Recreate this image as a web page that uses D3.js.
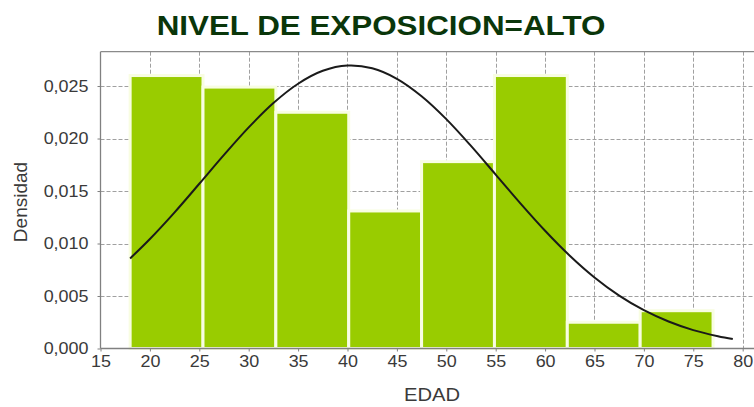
<!DOCTYPE html>
<html>
<head>
<meta charset="utf-8">
<script src="https://cdn.jsdelivr.net/npm/d3@7"></script>
<style>
  html, body { margin: 0; padding: 0; background: #fff; }
  svg { display: block; }
  text { font-family: "Liberation Sans", Arial, sans-serif; }
</style>
</head>
<body>
<svg id="chart" width="754" height="407"></svg>
<script>
// ---- data ----
const binEdges = [18, 25.375, 32.75, 40.125, 47.5, 54.875, 62.25, 69.625, 77];
const densities = [0.0260, 0.0249, 0.0225, 0.0131, 0.0178, 0.0260, 0.0025, 0.0036];
const curveX = [18, 20, 22.5, 25, 27.5, 30, 32.5, 35, 37.5, 40, 42.5, 45, 47.5, 50, 52.5, 55, 57.5, 60, 62.5, 65, 67.5, 70, 72.5, 75, 77.5, 79];
const curveY = [0.00858, 0.01043, 0.01297, 0.01569, 0.01844, 0.02106, 0.02338, 0.02522, 0.02645, 0.02695, 0.02669, 0.02569, 0.02403, 0.02185, 0.0193, 0.01657, 0.01383, 0.01122, 0.00884, 0.00677, 0.00504, 0.00365, 0.00257, 0.00175, 0.00117, 0.0009];
const xTicks = [15, 20, 25, 30, 35, 40, 45, 50, 55, 60, 65, 70, 75, 80];
const yTicks = [0, 0.005, 0.010, 0.015, 0.020, 0.025];
const title = "NIVEL DE EXPOSICION=ALTO";
const xLabel = "EDAD";
const yLabel = "Densidad";

(function draw() {
  const svg = d3.select("#chart");
  const W = 754;
  const pL = 100.5, pR = 757.5, pT = 51.7, pB = 348.5;
  const stretch = 1.12;

  const x = d3.scaleLinear().domain([15, 81.5]).range([pL, pR]);
  const y = d3.scaleLinear().domain([0, 0.02827]).range([pB, pT]);

  const loc = d3.formatLocale({decimal: ",", thousands: ".", grouping: [3], currency: ["", ""]});
  const yFmt = loc.format(".3f");

  // grid
  const grid = svg.append("g").attr("stroke", "#a0a0a0").attr("stroke-width", 1).attr("stroke-dasharray", "4,2");
  grid.selectAll("line.v").data(xTicks.slice(1)).join("line").attr("class", "v")
    .attr("x1", d => Math.round(x(d)) + 0.5).attr("x2", d => Math.round(x(d)) + 0.5)
    .attr("y1", pT).attr("y2", pB);
  grid.selectAll("line.h").data(yTicks.slice(1)).join("line").attr("class", "h")
    .attr("x1", pL).attr("x2", W)
    .attr("y1", d => Math.round(y(d)) + 0.5).attr("y2", d => Math.round(y(d)) + 0.5);

  // top border
  svg.append("line").attr("x1", pL).attr("x2", W).attr("y1", pT).attr("y2", pT)
    .attr("stroke", "#8a8a8a").attr("stroke-width", 1.2);

  // bars
  const bins = densities.map((v, i) => ({x0: binEdges[i], x1: binEdges[i + 1], v}));
  svg.append("g").selectAll("rect").data(bins).join("rect")
    .attr("x", d => x(d.x0))
    .attr("width", d => x(d.x1) - x(d.x0))
    .attr("y", d => y(d.v))
    .attr("height", d => y(0) - y(d.v))
    .attr("fill", "#99cc00")
    .attr("stroke", "#f8fde2")
    .attr("stroke-width", 3);

  // normal curve
  const pts = curveX.map((v, i) => [v, curveY[i]]);
  svg.append("path").datum(pts)
    .attr("d", d3.line().x(d => x(d[0])).y(d => y(d[1])).curve(d3.curveCatmullRom))
    .attr("fill", "none").attr("stroke", "#1a1a1a").attr("stroke-width", 2);

  // axes
  const xAxis = svg.append("g").attr("transform", `translate(0,${pB})`)
    .call(d3.axisBottom(x).tickValues(xTicks).tickSize(3).tickPadding(4).tickFormat(d3.format("d")));
  const yAxis = svg.append("g").attr("transform", `translate(${pL},0)`)
    .call(d3.axisLeft(y).tickValues(yTicks).tickSize(3).tickPadding(9).tickFormat(yFmt));
  [xAxis, yAxis].forEach(a => {
    a.select(".domain").attr("stroke", "#808080").attr("stroke-width", 1.3);
    a.selectAll(".tick line").attr("stroke", "#808080");
    a.selectAll(".tick text").attr("fill", "#3a3a3a").attr("font-size", 16)
      .attr("font-family", "'Liberation Sans', Arial, sans-serif");
  });
  xAxis.select(".domain").attr("d", `M${pL},0H${W}`);
  yAxis.select(".domain").attr("d", `M0,${pT}V${pB}`);

  function stretchText(sel, f) {
    sel.each(function() {
      const L = this.getComputedTextLength();
      d3.select(this).attr("textLength", L * f).attr("lengthAdjust", "spacingAndGlyphs");
    });
  }
  stretchText(xAxis.selectAll(".tick text"), stretch);
  stretchText(yAxis.selectAll(".tick text"), stretch);

  // title
  const t = svg.append("text").attr("x", 381).attr("y", 35).attr("text-anchor", "middle")
    .attr("font-size", 28).attr("font-weight", "bold").attr("fill", "#0a360a").text(title);
  stretchText(t, stretch);

  // axis labels
  const xl = svg.append("text").attr("x", 432).attr("y", 401).attr("text-anchor", "middle")
    .attr("font-size", 18).attr("fill", "#3a3a3a").text(xLabel);
  stretchText(xl, stretch);
  svg.append("text").attr("transform", "translate(27,202) rotate(-90)").attr("text-anchor", "middle")
    .attr("font-size", 19).attr("fill", "#3a3a3a").text(yLabel);
})();
</script>
</body>
</html>
